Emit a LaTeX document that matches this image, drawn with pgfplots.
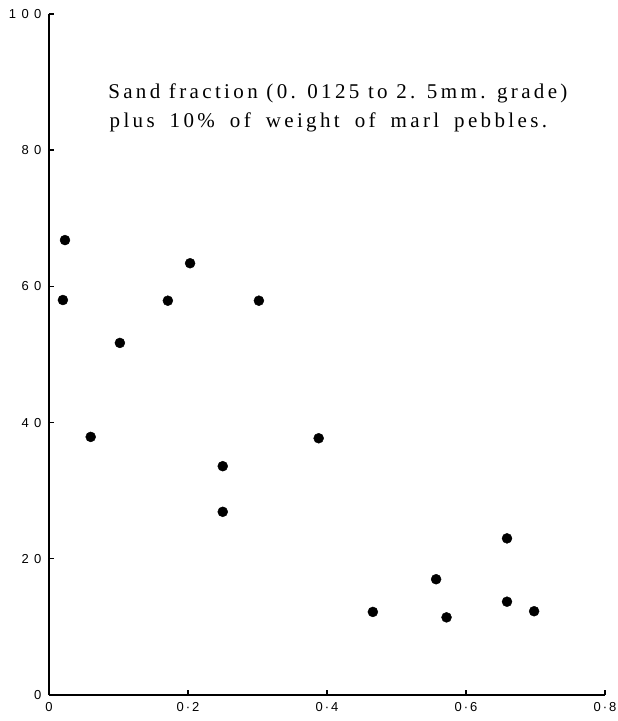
\documentclass[border=0pt]{standalone}
\usepackage{pgfplots}
\pgfplotsset{compat=1.18}
\usepackage{fontspec}
\setmainfont{Liberation Serif}
\newfontfamily\annfont[LetterSpace=16]{Liberation Serif}
\newfontfamily\tickfont{Liberation Sans}
\begin{document}
\begin{tikzpicture}
\useasboundingbox (-49bp,-26bp) rectangle (569bp,695bp);
\begin{axis}[
  scale only axis,
  width=556bp, height=681bp,
  xmin=0, xmax=0.8, ymin=0, ymax=100,
  axis x line=bottom, axis y line=left,
  axis line style={-, line width=2.2bp, black},
  xtick={0,0.2,0.4,0.6,0.8},
  xticklabels={0, 0\kern2bp·\kern2bp2, 0\kern2bp·\kern2bp4, 0\kern2bp·\kern2bp6, 0\kern2bp·\kern2bp8},
  ytick={0,20,40,60,80,100},
  yticklabels={0, 2\kern5.5bp0, 4\kern5.5bp0, 6\kern5.5bp0, 8\kern5.5bp0, 1\kern5.5bp0\kern5.5bp0},
  tick align=inside,
  major tick length=5bp,
  tick style={line width=1.4bp, black},
  xticklabel style={font=\fontsize{13bp}{15bp}\tickfont, yshift=-4bp},
  yticklabel style={font=\fontsize{13bp}{15bp}\tickfont, xshift=-4bp},
  clip=false,
]
\addplot[only marks, mark=*, mark size=5bp, mark options={fill=black, draw=none}] table {
x y
0.023 66.8
0.020 58.0
0.060 37.9
0.102 51.7
0.171 57.9
0.203 63.4
0.250 33.6
0.250 26.9
0.302 57.9
0.388 37.7
0.466 12.2
0.557 17.0
0.572 11.4
0.659 23.0
0.659 13.7
0.698 12.3
};
\node[anchor=base west, inner sep=0pt, font=\fontsize{21bp}{24bp}\annfont] at (axis cs:0.085,87.6) {Sand fraction (0. 0125 to 2. 5\,mm. grade)};
\node[anchor=base west, inner sep=0pt, font=\fontsize{21bp}{24bp}\annfont] at (axis cs:0.087,83.4) {\spaceskip=15bp plus 1bp minus 1bp plus 10\% of weight of marl pebbles.};
\end{axis}
\end{tikzpicture}
\end{document}
